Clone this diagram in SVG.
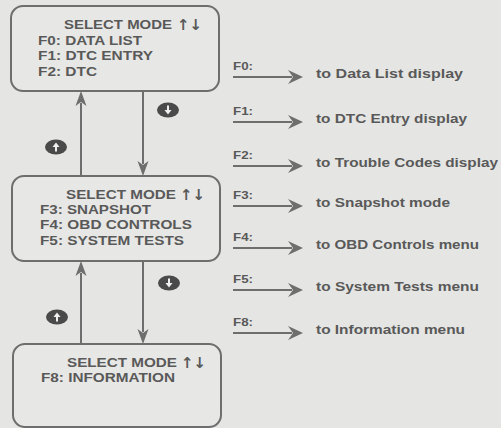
<svg xmlns="http://www.w3.org/2000/svg" width="501" height="428" viewBox="0 0 501 428">
<style>
.bg{fill:#e5e5e3}
.box{fill:#e7e7e5;stroke:#6e6e6e;stroke-width:2}
.t{font-family:"Liberation Sans",Arial,sans-serif;font-weight:bold;fill:#595959}
.lt{font-size:13.5px}
.rt{font-size:12.5px}
.fl{font-size:11px}
.ar{font-family:"DejaVu Sans","Liberation Sans",sans-serif;font-weight:bold;font-size:15px;fill:#5a5a5a}
.ln{stroke:#6e6e6e;stroke-width:2;fill:none}
.hd{fill:#6e6e6e}
.ic{fill:#4a4a4a}
.iw{stroke:#f0f0f0;stroke-width:2;fill:none}
.iwh{fill:#f0f0f0}
</style>
<defs>
<path id="hr" d="M0,0 L-15,-7 L-10,0 L-15,7 Z"/>
<path id="hu" d="M0,0 L-5.5,15 L0,11 L5.5,15 Z"/>
<path id="hdn" d="M0,0 L-5.5,-15 L0,-11 L5.5,-15 Z"/>
<g id="icd"><ellipse rx="11" ry="7.5" class="ic"/><line x1="0" y1="-4.5" x2="0" y2="1" class="iw"/><path d="M-3.5,0 L3.5,0 L0,4.5 Z" class="iwh"/></g>
<g id="icu"><ellipse rx="11" ry="7.5" class="ic"/><line x1="0" y1="4.5" x2="0" y2="-1" class="iw"/><path d="M-3.5,0 L3.5,0 L0,-4.5 Z" class="iwh"/></g>
</defs>
<rect class="bg" x="0" y="0" width="501" height="428"/>

<g id="connectors">
  <line class="ln" x1="143" y1="91" x2="143" y2="164"/>
  <use href="#hdn" x="143" y="176" class="hd"/>
  <line class="ln" x1="81" y1="176" x2="81" y2="103"/>
  <use href="#hu" x="81" y="91" class="hd"/>
  <line class="ln" x1="143" y1="261" x2="143" y2="332"/>
  <use href="#hdn" x="143" y="344" class="hd"/>
  <line class="ln" x1="81" y1="344" x2="81" y2="273"/>
  <use href="#hu" x="81" y="261" class="hd"/>
  <use href="#icd" x="168" y="110"/>
  <use href="#icu" x="56" y="147"/>
  <use href="#icd" x="169" y="283"/>
  <use href="#icu" x="57" y="317"/>

  <line class="ln" x1="233" y1="77" x2="292" y2="77"/><use href="#hr" x="303" y="77" class="hd"/>
  <line class="ln" x1="233" y1="122" x2="292" y2="122"/><use href="#hr" x="303" y="122" class="hd"/>
  <line class="ln" x1="233" y1="166" x2="292" y2="166"/><use href="#hr" x="303" y="166" class="hd"/>
  <line class="ln" x1="233" y1="206" x2="292" y2="206"/><use href="#hr" x="303" y="206" class="hd"/>
  <line class="ln" x1="233" y1="248" x2="292" y2="248"/><use href="#hr" x="303" y="248" class="hd"/>
  <line class="ln" x1="233" y1="290" x2="292" y2="290"/><use href="#hr" x="303" y="290" class="hd"/>
  <line class="ln" x1="233" y1="333" x2="292" y2="333"/><use href="#hr" x="303" y="333" class="hd"/>
</g>

<g id="box1">
  <rect class="box" x="11" y="6" width="208" height="85" rx="12"/>
  <text class="t lt" x="64" y="29" textLength="108" lengthAdjust="spacingAndGlyphs">SELECT MODE</text>
  <text class="ar" x="177" y="30">↑↓</text>
  <text class="t lt" x="38" y="45" textLength="104" lengthAdjust="spacingAndGlyphs">F0: DATA LIST</text>
  <text class="t lt" x="38" y="60" textLength="115" lengthAdjust="spacingAndGlyphs">F1: DTC ENTRY</text>
  <text class="t lt" x="38" y="76" textLength="59" lengthAdjust="spacingAndGlyphs">F2: DTC</text>
</g>

<g id="box2">
  <rect class="box" x="12" y="176" width="208" height="85" rx="12"/>
  <text class="t lt" x="66" y="199" textLength="110" lengthAdjust="spacingAndGlyphs">SELECT MODE</text>
  <text class="ar" x="180" y="200">↑↓</text>
  <text class="t lt" x="40" y="214" textLength="111" lengthAdjust="spacingAndGlyphs">F3: SNAPSHOT</text>
  <text class="t lt" x="40" y="229" textLength="152" lengthAdjust="spacingAndGlyphs">F4: OBD CONTROLS</text>
  <text class="t lt" x="40" y="245" textLength="144" lengthAdjust="spacingAndGlyphs">F5: SYSTEM TESTS</text>
</g>

<g id="box3">
  <rect class="box" x="13" y="344" width="208" height="83" rx="12"/>
  <text class="t lt" x="67" y="367" textLength="110" lengthAdjust="spacingAndGlyphs">SELECT MODE</text>
  <text class="ar" x="181" y="368">↑↓</text>
  <text class="t lt" x="41" y="382" textLength="134" lengthAdjust="spacingAndGlyphs">F8: INFORMATION</text>
</g>

<g id="row-f0">
  <text class="t fl" x="233" y="70" textLength="20" lengthAdjust="spacingAndGlyphs">F0:</text>
  <text class="t rt" x="316" y="78" textLength="147" lengthAdjust="spacingAndGlyphs">to Data List display</text>
</g>
<g id="row-f1">
  <text class="t fl" x="233" y="115" textLength="20" lengthAdjust="spacingAndGlyphs">F1:</text>
  <text class="t rt" x="316" y="123" textLength="151" lengthAdjust="spacingAndGlyphs">to DTC Entry display</text>
</g>
<g id="row-f2">
  <text class="t fl" x="233" y="159" textLength="20" lengthAdjust="spacingAndGlyphs">F2:</text>
  <text class="t rt" x="316" y="167" textLength="182" lengthAdjust="spacingAndGlyphs">to Trouble Codes display</text>
</g>
<g id="row-f3">
  <text class="t fl" x="233" y="199" textLength="20" lengthAdjust="spacingAndGlyphs">F3:</text>
  <text class="t rt" x="316" y="207" textLength="134" lengthAdjust="spacingAndGlyphs">to Snapshot mode</text>
</g>
<g id="row-f4">
  <text class="t fl" x="233" y="241" textLength="20" lengthAdjust="spacingAndGlyphs">F4:</text>
  <text class="t rt" x="316" y="249" textLength="163" lengthAdjust="spacingAndGlyphs">to OBD Controls menu</text>
</g>
<g id="row-f5">
  <text class="t fl" x="233" y="283" textLength="20" lengthAdjust="spacingAndGlyphs">F5:</text>
  <text class="t rt" x="316" y="291" textLength="163" lengthAdjust="spacingAndGlyphs">to System Tests menu</text>
</g>
<g id="row-f8">
  <text class="t fl" x="233" y="326" textLength="20" lengthAdjust="spacingAndGlyphs">F8:</text>
  <text class="t rt" x="316" y="334" textLength="149" lengthAdjust="spacingAndGlyphs">to Information menu</text>
</g>
</svg>
